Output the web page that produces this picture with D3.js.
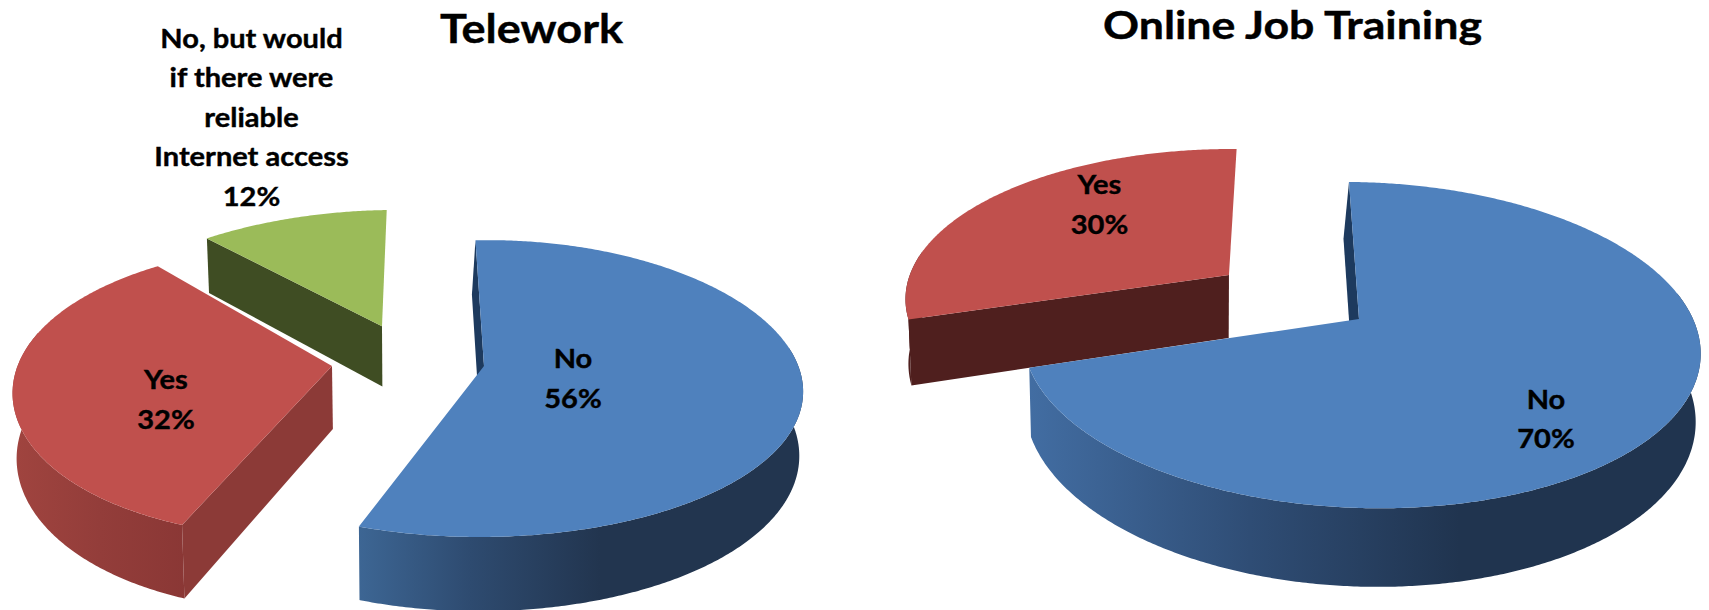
<!DOCTYPE html>
<html><head><meta charset="utf-8">
<script src="https://cdn.jsdelivr.net/npm/d3@7"></script>
<style>html,body{margin:0;padding:0;background:#fff;overflow:hidden}svg{display:block}text{font-family:Lato,"Open Sans",sans-serif;font-weight:700;fill:#000;stroke:#000;stroke-width:.4px;text-anchor:middle}</style>
</head><body><svg id="c" width="1709" height="610"></svg>
<script>
// ---- data ----
const teleworkCategories = ["No", "Yes", "No, but would if there were reliable Internet access"];
const teleworkValues = [56, 32, 12];
const trainingCategories = ["No", "Yes"];
const trainingValues = [70, 30];
const chartTitles = ["Telework", "Online Job Training"];

// ---- layout ----
const deg = Math.PI / 180;
const svg = d3.select("#c");
const defs = svg.append("defs");

const charts = [
  { title: chartTitles[0], titleX: 531.5, titleY: 43, titleSize: 41, titleW: 183, cats: teleworkCategories, vals: teleworkValues,
    rot: -2.5, boundaryNudge: [0, 2.5],           // degrees moved at the boundary after slice i
    cx: 484, cy: 366, vx: 510, vz: 420, R: 316, S: 145, k: 0.152, D: 63, e: 0.01,
    lean: [-3, 0, 0],
    shift: [[0, 0], [-152, 0], [-107.6, -0.287]],
    warp: [[0, 5], [6, -10], [0, 0]],
    top: ["#4f81bd", "#c0504d", "#9bbb59"],
    wall: ["#1d3a5e", "#8c3a37", "#3f4d23"],
    walls: [["start"], ["start"], ["start"]],
    side: [[[358, "#3d6694"], [470, "#2e4b70"], [600, "#22354f"], [803, "#22354f"]],
           [[13, "#a0443f"], [100, "#933d3a"], [190, "#8a3735"]],
           [[200, "#3f4d23"], [390, "#3f4d23"]]],
    labels: [{x: 573, y: 368, lines: ["No", "56%"]},
             {x: 166, y: 389, lines: ["Yes", "32%"]},
             {x: 251.5, y: 47.5, lines: ["No, but would", "if there were", "reliable", "Internet access", "12%"]}] },
  { title: chartTitles[1], titleX: 1292.5, titleY: 39, titleSize: 39, titleW: 379, cats: trainingCategories, vals: trainingValues,
    rot: 1, boundaryNudge: [0],
    cx: 1359, cy: 319, vx: 1250, vz: 1200, R: 334, S: 159, k: 0.16, D: 66, e: 0.01,
    lean: [-4, 0],
    shift: [[0, 0], [-131, -0.29]],
    warp: [[0, 0], [0, 0]],
    top: ["#4f81bd", "#c0504d"],
    wall: ["#1d3a5e", "#4f1f1e"],
    walls: [["start"], ["start"]],
    side: [[[1030, "#426da2"], [1250, "#2f4d75"], [1460, "#20344f"], [1701, "#20344f"]],
           [[900, "#4f1f1e"], [1230, "#4f1f1e"]]],
    labels: [{x: 1546, y: 408.5, lines: ["No", "70%"]},
             {x: 1099.5, y: 194, lines: ["Yes", "30%"]}] }
];

const labelSize = 27, labelStretch = 1.075, lineGap = 39.5;
const line = d3.line();

charts.forEach((ch, ci) => {
  const pie = d3.pie().sort(null).startAngle(ch.rot * deg).endAngle((ch.rot + 360) * deg);
  const arcs = pie(ch.vals);
  const project = (i, theta, low) => {
    const sl = ch.shift[i], wp = ch.warp[i];
    const sn = theta === null ? 0 : Math.sin(theta), cs = theta === null ? 0 : Math.cos(theta);
    const X = ch.cx - ch.vx + sl[0] + ch.R * sn;
    const Y = sl[1] - cs;
    const w = 1 - ch.k * Y;
    let sx = ch.vx + X / w + wp[0] * sn * sn, sy = ch.cy + ch.S * Y / w + wp[1] * sn * sn;
    if (low) { sx -= ch.e * (sx - ch.vz); sy += ch.D / w; }
    return [sx, sy];
  };
  const g = svg.append("g").attr("class", "chart");
  d3.range(arcs.length - 1, -1, -1).forEach(i => {
    const a0 = arcs[i].startAngle + (i > 0 ? (ch.boundaryNudge[i - 1] || 0) * deg : 0);
    const a1 = arcs[i].endAngle + (i < arcs.length - 1 ? (ch.boundaryNudge[i] || 0) * deg : 0);
    const steps = d3.range(a0, a1, 0.5 * deg).concat([a1]);
    // outer skirt (front-facing part only)
    const front = steps.filter(t => { const d = ((t / deg) % 360 + 360) % 360; return d > 80 && d < 280; });
    if (front.length > 1) {
      const id = `skirt${ci}${i}`;
      const stops = ch.side[i];
      const lo = stops[0][0], hi = stops[stops.length - 1][0];
      const grad = defs.append("linearGradient").attr("id", id).attr("gradientUnits", "userSpaceOnUse")
        .attr("x1", lo).attr("x2", hi).attr("y1", 0).attr("y2", 0);
      stops.forEach(s => grad.append("stop").attr("offset", (s[0] - lo) / (hi - lo)).attr("stop-color", s[1]));
      const pts = front.map(t => project(i, t, false)).concat(front.slice().reverse().map(t => project(i, t, true)));
      g.append("path").attr("d", line(pts) + "Z").attr("fill", `url(#${id})`);
    }
    // radial walls that face the viewer
    ch.walls[i].forEach(face => {
      const t = face === "start" ? a0 : a1;
      const lean = ch.lean[i];
      const lowA = project(i, t, true), lowB = project(i, null, true);
      const pts = [project(i, null, false), project(i, t, false), [lowA[0] + lean, lowA[1]], [lowB[0] + lean, lowB[1]]];
      g.append("path").attr("d", line(pts) + "Z").attr("fill", ch.wall[i]);
    });
    // top face
    const topPts = [project(i, null, false)].concat(steps.map(t => project(i, t, false)));
    g.append("path").attr("d", line(topPts) + "Z").attr("fill", ch.top[i]);
  });
  // labels
  ch.labels.forEach(l => {
    l.lines.forEach((txt, j) => {
      const t = g.append("text").attr("x", l.x).attr("y", l.y + j * lineGap).attr("font-size", labelSize).text(txt);
      t.attr("lengthAdjust", "spacingAndGlyphs").attr("textLength", t.node().getComputedTextLength() * labelStretch);
    });
  });
  svg.append("text").attr("x", ch.titleX).attr("y", ch.titleY).attr("font-size", ch.titleSize)
    .attr("lengthAdjust", "spacingAndGlyphs").attr("textLength", ch.titleW).text(ch.title);
});
</script></body></html>
